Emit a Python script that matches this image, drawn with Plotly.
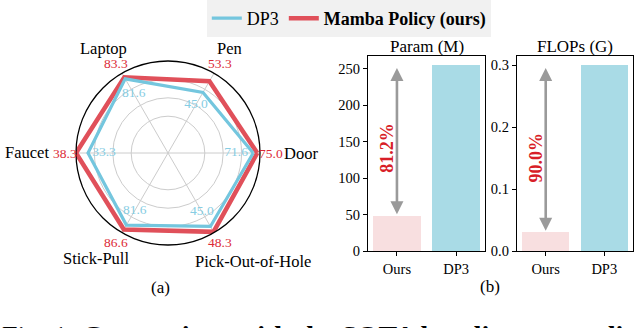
import math
import plotly.graph_objects as go

# ---------------- data ----------------
tasks = ["Door", "Pen", "Laptop", "Faucet", "Stick-Pull", "Pick-Out-of-Hole"]
dp3_success = [71.6, 45.0, 81.6, 33.3, 81.6, 45.0]
mamba_success = [75.0, 53.3, 83.3, 38.3, 86.6, 48.3]
axis_scale = [77.3, 59.2, 87.7, 38.3, 90.2, 48.8]   # per-task radar normalisation

models = ["Ours", "DP3"]
params_m = [47.9, 255.0]
flops_g = [0.03, 0.30]
param_ticks = [0, 50, 100, 150, 200, 250]
flops_ticks = [0.0, 0.1, 0.2, 0.3]

# ---------------- style ----------------
SERIF = "Liberation Serif"
RED_LINE = "#e0505a"
BLUE_LINE = "#74c6de"
RED_TXT = "#dc2a36"
BLUE_TXT = "#86cde3"
PINK_BAR = "#f8dfe0"
BLUE_BAR = "#a9dbe6"
W, H = 640, 328
CX, CY, RAD = 168, 153, 92          # radar centre / radius in pixels (layout)

n = len(tasks)
angles = [i * 360.0 / n for i in range(n)]
dp3_norm = [v / s for v, s in zip(dp3_success, axis_scale)]
mamba_norm = [v / s for v, s in zip(mamba_success, axis_scale)]


def polar_to_paper(r, theta_deg):
    a = math.radians(theta_deg)
    px = CX + r * RAD * math.cos(a)
    py = CY - r * RAD * math.sin(a)
    return px / W, 1 - py / H


fig = go.Figure()

# radar lines (red under blue)
fig.add_trace(go.Scatterpolar(
    r=mamba_norm + mamba_norm[:1], theta=angles + angles[:1], mode="lines",
    line=dict(color=RED_LINE, width=4.5), name="<b>Mamba Policy (ours)</b>",
    legendrank=2, subplot="polar", hoverinfo="skip"))
fig.add_trace(go.Scatterpolar(
    r=dp3_norm + dp3_norm[:1], theta=angles + angles[:1], mode="lines",
    line=dict(color=BLUE_LINE, width=3.2), name="DP3",
    legendrank=1, subplot="polar", hoverinfo="skip"))

# DP3 value labels (inside the chart)
fig.add_trace(go.Scatterpolar(
    r=[0.8 * v for v in dp3_norm], theta=angles, mode="text",
    text=[f"{v:.1f}" for v in dp3_success],
    textfont=dict(family=SERIF, size=13.5, color=BLUE_TXT),
    textposition="middle center", cliponaxis=False, showlegend=False,
    subplot="polar", hoverinfo="skip"))

# bars
fig.add_trace(go.Bar(x=models, y=params_m, marker=dict(color=[PINK_BAR, BLUE_BAR], line=dict(width=0)),
                     width=0.8, xaxis="x", yaxis="y", showlegend=False, hoverinfo="skip"))
fig.add_trace(go.Bar(x=models, y=flops_g, marker=dict(color=[PINK_BAR, BLUE_BAR], line=dict(width=0)),
                     width=0.8, xaxis="x2", yaxis="y2", showlegend=False, hoverinfo="skip"))

Y0, Y1 = 1 - 251 / H, 1 - 56 / H
axis_common = dict(showline=True, mirror=True, linecolor="black", linewidth=1.3,
                   ticks="outside", ticklen=4, tickcolor="black", tickwidth=1,
                   showgrid=False, zeroline=False,
                   tickfont=dict(family=SERIF, size=14.5, color="black"))

fig.update_layout(
    width=W, height=H, margin=dict(l=0, r=0, t=0, b=0, autoexpand=False),
    paper_bgcolor="white", plot_bgcolor="white",
    font=dict(family=SERIF, color="black"),
    bargap=0,
    polar=dict(
        domain=dict(x=[(CX - RAD) / W, (CX + RAD) / W], y=[1 - (CY + RAD) / H, 1 - (CY - RAD) / H]),
        bgcolor="white",
        radialaxis=dict(range=[0, 1], tickvals=[0.4, 0.6, 0.8], showticklabels=False,
                        showline=False, ticks="", gridcolor="#cccccc", gridwidth=1),
        angularaxis=dict(tickvals=angles, showticklabels=False, ticks="",
                         direction="counterclockwise", rotation=0, thetaunit="degrees",
                         gridcolor="#cccccc", gridwidth=1,
                         showline=True, linecolor="black", linewidth=1.3),
    ),
    xaxis=dict(domain=[368 / W, 485 / W], anchor="y", range=[-0.49, 1.49],
               type="category", **axis_common),
    yaxis=dict(domain=[Y0, Y1], anchor="x", range=[0, max(params_m) * 1.05],
               tickvals=param_ticks, ticktext=[str(t) for t in param_ticks], **axis_common),
    xaxis2=dict(domain=[517 / W, 633 / W], anchor="y2", range=[-0.49, 1.49],
                type="category", **axis_common),
    yaxis2=dict(domain=[Y0, Y1], anchor="x2", range=[0, max(flops_g) * 1.05],
                tickvals=flops_ticks, ticktext=[f"{t:.1f}" for t in flops_ticks], **axis_common),
    legend=dict(orientation="h", x=0.545, xanchor="center", y=1.0, yanchor="top",
                bgcolor="#f1f1f1", bordercolor="#e6e6e6", borderwidth=0,
                font=dict(family=SERIF, size=18, color="black"),
                itemwidth=30, traceorder="normal"),
)

annotations = []
# Mamba value labels just outside the radar
for v, ang in zip(mamba_success, angles):
    x, y = polar_to_paper(1.12, ang)
    annotations.append(dict(text=f"{v:.1f}", x=x, y=y, xref="paper", yref="paper", showarrow=False,
                            font=dict(family=SERIF, size=13.5, color=RED_TXT),
                            xanchor="center", yanchor="middle"))
# task names
label_r = [1.45, 1.32, 1.34, 1.53, 1.39, 1.50]
label_t = [0, 59.8, 121.8, 180, 235.8, 308]
for name, r, t in zip(tasks, label_r, label_t):
    x, y = polar_to_paper(r, t)
    annotations.append(dict(text=name, x=x, y=y, xref="paper", yref="paper", showarrow=False,
                            font=dict(family=SERIF, size=16.5, color="black"),
                            xanchor="center", yanchor="middle"))

# subplot titles
annotations.append(dict(text="Param (M)", x=(368 + 485) / 2 / W, y=1 - 46 / H, xref="paper", yref="paper",
                        showarrow=False, font=dict(family=SERIF, size=17), xanchor="center", yanchor="middle"))
annotations.append(dict(text="FLOPs (G)", x=(517 + 633) / 2 / W, y=1 - 46 / H, xref="paper", yref="paper",
                        showarrow=False, font=dict(family=SERIF, size=17), xanchor="center", yanchor="middle"))

# arrows and reductions
for xa, ya, vals in [("x", "y", params_m), ("x2", "y2", flops_g)]:
    ours, base = vals
    annotations.append(dict(x=0, y=base * 0.985, ax=0, ay=ours * 1.01, xref=xa, yref=ya, axref=xa, ayref=ya,
                            text="", showarrow=True, arrowhead=2, arrowside="end+start", arrowsize=1.0,
                            arrowwidth=2.6, arrowcolor="#9a9a9a", standoff=0, startstandoff=0))
    pct = (1 - ours / base) * 100
    annotations.append(dict(x=-0.16, y=ours + 0.45 * (base - ours), xref=xa, yref=ya,
                            text=f"<b>{pct:.1f}%</b>", textangle=-90, showarrow=False,
                            font=dict(family=SERIF, size=18, color="#d81e28"),
                            xanchor="center", yanchor="middle"))

# panel labels
annotations.append(dict(text="(a)", x=160 / W, y=1 - 287 / H, xref="paper", yref="paper",
                        showarrow=False, font=dict(family=SERIF, size=17), xanchor="center", yanchor="middle"))
annotations.append(dict(text="(b)", x=490 / W, y=1 - 286 / H, xref="paper", yref="paper",
                        showarrow=False, font=dict(family=SERIF, size=17), xanchor="center", yanchor="middle"))
# cropped caption
annotations.append(dict(text="Fig. 1: <b>Comparison with the SOTA baselines regarding</b>",
                        x=0, y=1 - 318 / H, xref="paper", yref="paper", showarrow=False,
                        font=dict(family=SERIF, size=28), xanchor="left", yanchor="top"))

fig.update_layout(annotations=annotations)
fig.write_html("out.html", config={"displayModeBar": False},
               post_script="document.body.style.margin='0';document.body.style.overflow='hidden';")
